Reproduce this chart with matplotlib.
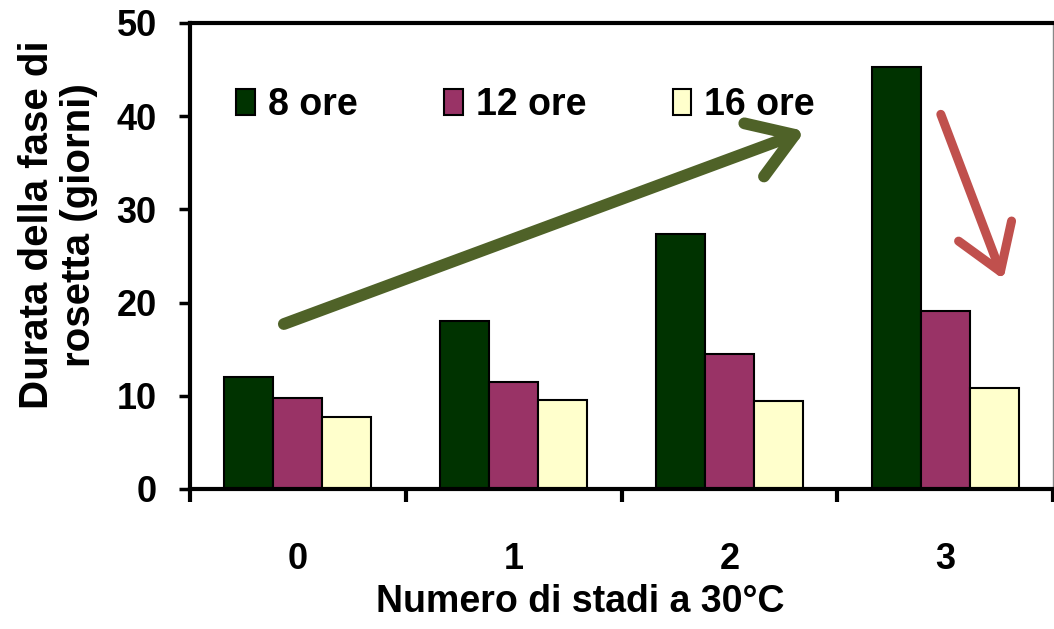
import numpy as np
import matplotlib
matplotlib.use("Agg")
import matplotlib.pyplot as plt

plt.rcParams['font.family'] = ['Liberation Sans', 'DejaVu Sans']
plt.rcParams['font.weight'] = 'bold'

# --- Data ---
stages = ["0", "1", "2", "3"]
photoperiods = ["8 ore", "12 ore", "16 ore"]
days_8h = [12.0, 18.0, 27.4, 45.3]
days_12h = [9.8, 11.5, 14.5, 19.1]
days_16h = [7.7, 9.6, 9.4, 10.8]
bar_colors = ["#003300", "#993366", "#FFFFCC"]

# --- Figure ---
fig = plt.figure(figsize=(10.54, 6.29), dpi=100)
ax = fig.add_axes([190 / 1054, 1 - 489 / 629, 863 / 1054, 466 / 629])

x = np.arange(len(stages))
w = 0.227
series = [days_8h, days_12h, days_16h]
for k, (vals, col, lab) in enumerate(zip(series, bar_colors, photoperiods)):
    ax.bar(x + (k - 1) * w, vals, width=w, color=col, edgecolor="black",
           linewidth=1.5, label=lab, zorder=2)

ax.set_xlim(-0.5, 3.5)
ax.set_ylim(0, 50)
ax.set_yticks(np.arange(0, 51, 10))
ax.tick_params(axis="y", labelsize=26, length=8, width=2.5, pad=16,
               direction="out")
ax.set_xticks(x)
ax.set_xticklabels(stages)
ax.tick_params(axis="x", which="major", length=0, labelsize=26, pad=38)
ax.set_xticks(np.arange(-0.5, 4, 1), minor=True)
ax.tick_params(axis="x", which="minor", length=9, width=3, direction="out")
for lbl in ax.get_xticklabels() + ax.get_yticklabels():
    lbl.set_fontweight("bold")

for side in ("left", "bottom", "top"):
    ax.spines[side].set_linewidth(3)
    ax.spines[side].set_color("black")
ax.spines["right"].set_linewidth(1)
ax.spines["right"].set_color("#888888")

# Axis titles
fig.text(580 / 1054, 1 - 602 / 629, "Numero di stadi a 30°C", ha="center",
         va="center", fontsize=27, fontweight="bold")
fig.text(58 / 1054, 1 - 225 / 629, "Durata della fase di\nrosetta (giorni)",
         ha="center", va="center", rotation=90, fontsize=29,
         fontweight="bold", linespacing=1.15, multialignment="center")

# Legend
fig.legend(loc="center left", bbox_to_anchor=(236 / 1054, 1 - 105 / 629),
           bbox_transform=fig.transFigure, ncol=3, frameon=False,
           handlelength=0.5, handleheight=0.7,
           handletextpad=0.35, columnspacing=2.3, borderpad=0,
           borderaxespad=0, prop={"weight": "bold", "size": 27})

# Trend arrows
ax.annotate("", xy=(2.35, 38.4), xytext=(-0.065, 17.7),
            arrowprops=dict(arrowstyle="->,head_length=2.6,head_width=1.7",
                            mutation_scale=12, color="#4F6228", lw=8.5,
                            capstyle="round", joinstyle="round",
                            shrinkA=0, shrinkB=0))
ax.annotate("", xy=(3.27, 22.5), xytext=(2.98, 40.2),
            arrowprops=dict(arrowstyle="->,head_length=2.6,head_width=1.7",
                            mutation_scale=12, color="#C0504D", lw=6.5,
                            capstyle="round", joinstyle="round",
                            shrinkA=0, shrinkB=0))

fig.savefig("out.png", dpi=100)
